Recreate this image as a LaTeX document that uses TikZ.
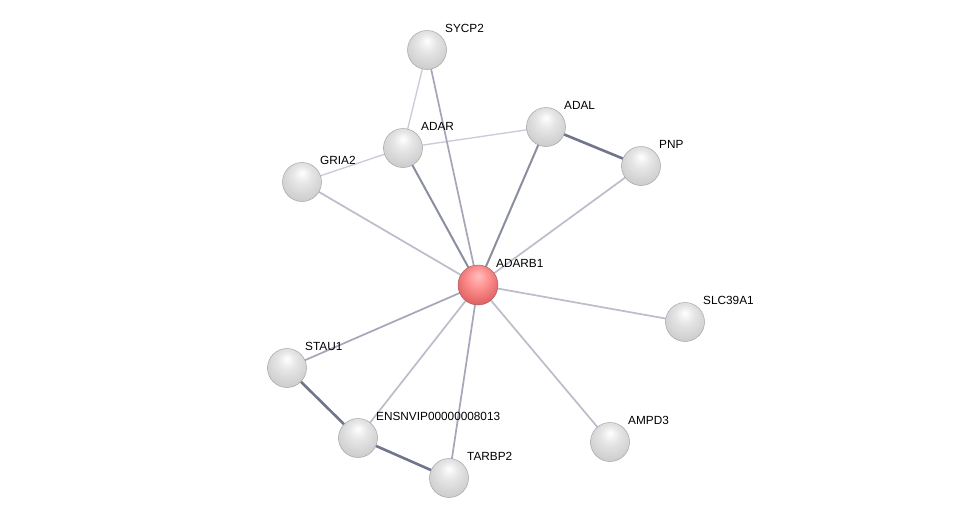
\documentclass[tikz,border=0pt]{standalone}
\usepackage{fontspec}
\setmainfont{Liberation Sans}
\definecolor{elight}{HTML}{CACBD6}
\definecolor{emed}{HTML}{A4A7BA}
\definecolor{edark}{HTML}{70748C}
\pgfdeclareradialshading{graysphere}{\pgfpoint{0bp}{12bp}}{color(0bp)=(white); color(12bp)=(black!10); color(30bp)=(black!20); color(42bp)=(black!28); color(48bp)=(black!45); color(52bp)=(black!60)}
\pgfdeclareradialshading{redsphere}{\pgfpoint{0bp}{12bp}}{color(0bp)=(red!25!white); color(12bp)=(red!42!white); color(30bp)=(red!58!white!88!black); color(42bp)=(red!62!white!80!black); color(48bp)=(red!62!white!60!black); color(52bp)=(red!62!white!45!black)}
\begin{document}
\begin{tikzpicture}[x=1pt,y=-1pt,
  prot/.style={circle,minimum size=39pt,inner sep=0pt,shading=graysphere,draw=black!35,line width=0.5pt},
  hub/.style={circle,minimum size=40pt,inner sep=0pt,shading=redsphere,draw=red!40!black!60,line width=0.5pt},
  lbl/.style={font=\fontsize{11.8}{13}\selectfont,anchor=base west,inner sep=0pt},
  lightedge/.style={draw=elight,line width=1.3pt},
  mededge/.style={draw=emed,line width=1.7pt},
  darkedge/.style={draw=edark,line width=2.6pt}]
\fill[white] (0,0) rectangle (976,523);
\useasboundingbox (0,0) rectangle (976,523);
% node positions
\coordinate (cSYCP2) at (427,50);
\coordinate (cADAR) at (403,148);
\coordinate (cADAL) at (546,127);
\coordinate (cPNP) at (641,166);
\coordinate (cGRIA2) at (302,182);
\coordinate (cADARB1) at (478,285);
\coordinate (cSLC) at (685,322);
\coordinate (cSTAU1) at (287,368);
\coordinate (cENS) at (358,438);
\coordinate (cAMPD3) at (610,442);
\coordinate (cTARBP2) at (449,478);
% edges
\draw[lightedge] (cSYCP2) -- (cADAR);
\draw[lightedge] (cADAR) -- (cADAL);
\draw[lightedge] (cADAR) -- (cGRIA2);
\draw[mededge] (cSYCP2) -- (cADARB1);
\draw[mededge,line width=2pt,draw=emed!85!black] (cADAR) -- (cADARB1);
\draw[mededge,line width=2pt,draw=emed!85!black] (cADAL) -- (cADARB1);
\draw[darkedge] (cADAL) -- (cPNP);
\draw[mededge,draw=elight!60!emed] (cPNP) -- (cADARB1);
\draw[mededge,draw=elight!60!emed] (cGRIA2) -- (cADARB1);
\draw[mededge,draw=elight!60!emed] (cADARB1) -- (cSLC);
\draw[mededge] (cADARB1) -- (cSTAU1);
\draw[mededge,draw=elight!60!emed] (cADARB1) -- (cENS);
\draw[mededge] (cADARB1) -- (cTARBP2);
\draw[mededge,draw=elight!60!emed] (cADARB1) -- (cAMPD3);
\draw[darkedge] (cSTAU1) -- (cENS);
\draw[darkedge] (cENS) -- (cTARBP2);
% nodes
\node[prot] (SYCP2) at (cSYCP2) {};
\node[prot] (ADAR) at (cADAR) {};
\node[prot] (ADAL) at (cADAL) {};
\node[prot] (PNP) at (cPNP) {};
\node[prot] (GRIA2) at (cGRIA2) {};
\node[hub] (ADARB1) at (cADARB1) {};
\node[prot] (SLC) at (cSLC) {};
\node[prot] (STAU1) at (cSTAU1) {};
\node[prot] (ENS) at (cENS) {};
\node[prot] (AMPD3) at (cAMPD3) {};
\node[prot] (TARBP2) at (cTARBP2) {};
% labels
\node[lbl] (lSYCP2) at ([shift={(18,-18)}]cSYCP2) {SYCP2};
\node[lbl] (lADAR) at ([shift={(18,-18)}]cADAR) {ADAR};
\node[lbl] (lADAL) at ([shift={(18,-18)}]cADAL) {ADAL};
\node[lbl] (lPNP) at ([shift={(18,-18)}]cPNP) {PNP};
\node[lbl] (lGRIA2) at ([shift={(18,-18)}]cGRIA2) {GRIA2};
\node[lbl] (lADARB1) at ([shift={(18,-18)}]cADARB1) {ADARB1};
\node[lbl] (lSLC) at ([shift={(18,-18)}]cSLC) {SLC39A1};
\node[lbl] (lSTAU1) at ([shift={(18,-18)}]cSTAU1) {STAU1};
\node[lbl] (lENS) at ([shift={(18,-18)}]cENS) {ENSNVIP00000008013};
\node[lbl] (lAMPD3) at ([shift={(18,-18)}]cAMPD3) {AMPD3};
\node[lbl] (lTARBP2) at ([shift={(18,-18)}]cTARBP2) {TARBP2};
\end{tikzpicture}
\end{document}
